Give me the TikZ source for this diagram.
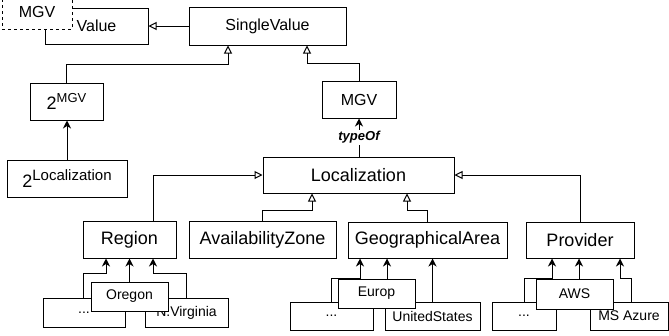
\documentclass[tikz,border=0pt]{standalone}
\usepackage{fontspec}
\setmainfont{Liberation Sans}
\usetikzlibrary{arrows.meta,calc}
\newcommand{\twopow}[2]{{\fontsize{18}{20}\selectfont 2}\raisebox{7pt}{\fontsize{#1}{15}\selectfont #2}}
\begin{document}
\begin{tikzpicture}[x=1pt,y=-1pt,
  box/.style={draw, fill=white, line width=1pt, inner sep=0pt, font=\fontsize{16}{19}\selectfont},
  bbox/.style={box, font=\fontsize{18}{21}\selectfont},
  ibox/.style={box, font=\fontsize{14}{17}\selectfont},
  dbox/.style={box, dash pattern=on 3pt off 3pt},
  gen/.style={draw, line width=1pt, -{Triangle[open,length=8pt,width=8pt]}},
  assoc/.style={draw, line width=1pt, -{Stealth[length=8pt,width=8pt,inset=2.5pt]}},
  lab/.style={fill=white, inner sep=1pt, font=\fontsize{13}{15}\selectfont\bfseries\itshape},
]
\useasboundingbox (0,0) rectangle (669,335);

% ---------- upper part ----------
\node[box, minimum width=103pt, minimum height=36pt] (val) at (96.5,26) {Value};
\node[dbox, minimum width=70pt, minimum height=35pt] (mgvd) at (37,11.5) {MGV};
\node[box, minimum width=157pt, minimum height=38pt] (sv) at (267.5,26) {SingleValue};
\node[box, minimum width=73pt, minimum height=37pt] (m2) at (66.5,101.5) {\twopow{13}{MGV}};
\node[box, minimum width=74pt, minimum height=37pt] (mgv) at (359,99.5) {MGV};
\node[box, minimum width=120pt, minimum height=37pt] (l2) at (67,178.5) {\twopow{15}{Localization}};
\node[bbox, minimum width=191pt, minimum height=36pt] (loc) at (358.5,175) {Localization};

\draw[gen] (sv.west) -- (sv.west -| val.east);
\draw[gen] (m2.north) |- ($(sv.south)+(-39.5,19)$) -- ($(sv.south)+(-39.5,0)$);
\draw[gen] (mgv.north) |- ($(sv.south)+(39.5,18)$) -- ($(sv.south)+(39.5,0)$);
\draw[assoc] (loc.north -| mgv.south) -- (mgv.south) node[lab, midway] {typeOf};
\draw[assoc] (l2.north) -- (l2.north |- m2.south);

% ---------- second level ----------
\node[bbox, minimum width=93pt, minimum height=37pt] (reg) at (129.5,239.5) {Region};
\node[bbox, minimum width=147pt, minimum height=37pt] (az) at (262.5,239.5) {AvailabilityZone};
\node[bbox, minimum width=159pt, minimum height=36pt] (ga) at (427.5,240) {GeographicalArea};
\node[bbox, minimum width=108pt, minimum height=36pt] (prov) at (580,240) {Provider};

\draw[gen] ($(reg.north)+(23.5,0)$) |- (loc.west);
\draw[gen] (az.north) |- ($(loc.south)+(-46.5,17)$) -- ($(loc.south)+(-46.5,0)$);
\draw[gen] (ga.north) |- ($(loc.south)+(48.5,17)$) -- ($(loc.south)+(48.5,0)$);
\draw[gen] (prov.north) |- (loc.east);

% ---------- Region instances ----------
\node[ibox, minimum width=82pt, minimum height=29pt] (r1) at (84,312.5) {...};
\node[ibox, minimum width=83pt, minimum height=29pt] (rnv) at (186.5,312.5) {N.Virginia};
\draw[assoc] ($(r1.north)+(-1,0)$) |- ($(reg.south)+(-23.5,15)$) -- ($(reg.south)+(-23.5,0)$);
\draw[assoc] (rnv.north) |- ($(reg.south)+(23.5,15)$) -- ($(reg.south)+(23.5,0)$);
\node[ibox, minimum width=77pt, minimum height=29pt] (ror) at (129.5,296.5) {Oregon};
\draw[assoc] (ror.north) -- (reg.south);

% ---------- GeographicalArea instances ----------
\node[ibox, minimum width=83pt, minimum height=28pt] (g1) at (331.5,316) {...};
\node[ibox, minimum width=95pt, minimum height=28pt] (gus) at (432.5,316) {UnitedStates};
\draw[assoc] (g1.north) |- ($(ga.south)+(-67.5,20)$) -- ($(ga.south)+(-67.5,0)$);
\draw[assoc] (gus.north) -- (gus.north |- ga.south);
\node[ibox, minimum width=77pt, minimum height=29pt] (geu) at (376.5,293.5) {Europ};
\draw[assoc] ($(geu.north)+(10.5,0)$) -- ($(ga.south)+(-40.5,0)$);

% ---------- Provider instances ----------
\node[ibox, minimum width=64pt, minimum height=28pt] (p1) at (524,316) {...};
\node[ibox, minimum width=78pt, minimum height=28pt] (paz) at (629,316) {MS Azure};
\draw[assoc] (p1.north) |- ($(prov.south)+(-28,20)$) -- ($(prov.south)+(-28,0)$);
\draw[assoc] ($(paz.north)+(2,0)$) |- ($(prov.south)+(40,20)$) -- ($(prov.south)+(40,0)$);
\node[ibox, minimum width=77pt, minimum height=30pt] (paws) at (574.5,294) {AWS};
\draw[assoc] ($(paws.north)+(4.5,0)$) -- ($(prov.south)+(-1,0)$);
\end{tikzpicture}
\end{document}
